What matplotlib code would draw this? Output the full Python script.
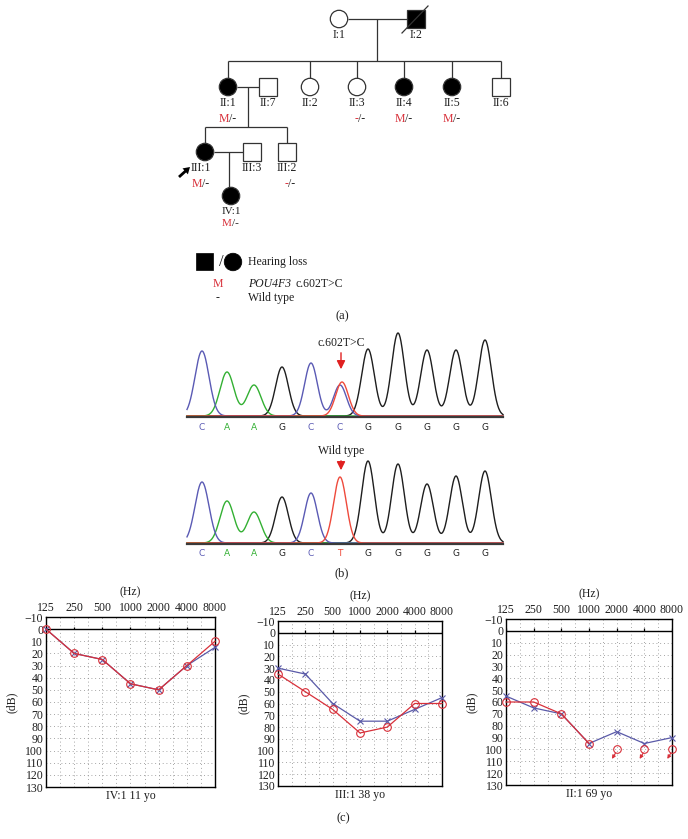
import numpy as np
import matplotlib
matplotlib.use('Agg')
import matplotlib.pyplot as plt
from matplotlib.patches import Circle, Rectangle, FancyArrow

plt.rcParams['font.family'] = ['Liberation Serif', 'DejaVu Serif']

W, H = 688, 839
RED = '#d8303a'
BLUE = '#5a5aa8'
INK = '#1e1e1e'

# ---- pedigree data
ped_ids = ['I:1', 'I:2', 'II:1', 'II:7', 'II:2', 'II:3', 'II:4', 'II:5', 'II:6',
           'III:1', 'III:3', 'III:2', 'IV:1']
ped_sex = ['F', 'M', 'F', 'M', 'F', 'F', 'F', 'F', 'M', 'F', 'M', 'M', 'F']
ped_affected = [0, 1, 1, 0, 0, 0, 1, 1, 0, 1, 0, 0, 1]
ped_deceased = [0, 1, 0, 0, 0, 0, 0, 0, 0, 0, 0, 0, 0]
ped_genotype = ['', '', 'M/-', '', '', '-/-', 'M/-', 'M/-', '', 'M/-', '', '-/-', 'M/-']

# ---- chromatogram data (peak call, height)
peak_x = [202, 227, 254, 282, 311, 340, 368, 398, 427, 456, 485]
mut_calls = ['C', 'A', 'A', 'G', 'C', 'C', 'G', 'G', 'G', 'G', 'G']
mut_heights = [65, 44, 31, 49, 53, 31, 67, 83, 66, 66, 76]
mut_second = [(5, 'T', 34)]
wt_calls = ['C', 'A', 'A', 'G', 'C', 'T', 'G', 'G', 'G', 'G', 'G']
wt_heights = [61, 42, 31, 46, 50, 66, 82, 79, 59, 67, 72]
base_col = {'C': '#5a5ab4', 'A': '#33b033', 'G': '#1e1e1e', 'T': '#ee4a3c'}

# ---- audiogram data
freqs = [125, 250, 500, 1000, 2000, 4000, 8000]
aud_titles = ['IV:1 11 yo', 'III:1 38 yo', 'II:1 69 yo']
aud_left = [[0, 20, 25, 45, 50, 30, 15],
            [30, 35, 60, 75, 75, 65, 55],
            [55, 65, 70, 95, 85, 95, 90]]
aud_right = [[0, 20, 25, 45, 50, 30, 10],
             [35, 50, 65, 85, 80, 60, 60],
             [60, 60, 70, 95]]
aud_noresp = [[], [], [(2000, 100), (4000, 100), (8000, 100)]]

fig = plt.figure(figsize=(W / 100, H / 100), dpi=100)
bg = fig.add_axes([0, 0, 1, 1])
bg.set_xlim(0, W)
bg.set_ylim(H, 0)
bg.axis('off')

# pedigree layout (pixel positions)
ped_pos = {'I:1': (339, 19), 'I:2': (416, 19),
           'II:1': (228, 87), 'II:7': (268, 87), 'II:2': (310, 87), 'II:3': (357, 87),
           'II:4': (404, 87), 'II:5': (452, 87), 'II:6': (501, 87),
           'III:1': (205, 152), 'III:3': (252, 152), 'III:2': (287, 152),
           'IV:1': (231, 196)}
R = 8.7
lw = 0.9
FS = 8.5

def line(xs, ys):
    bg.plot(xs, ys, color='#333333', lw=lw, solid_capstyle='butt')

# connecting lines
line([339 + R, 416 - R], [19, 19])
line([377, 377], [19, 61])
line([228, 501], [61, 61])
for k in ['II:1', 'II:2', 'II:3', 'II:4', 'II:5', 'II:6']:
    x = ped_pos[k][0]
    line([x, x], [61, 87 - R])
line([228 + R, 268 - R], [87, 87])
line([248, 248], [87, 127])
line([205, 287], [127, 127])
line([205, 205], [127, 152 - R])
line([287, 287], [127, 152 - R])
line([205 + R, 252 - R], [152, 152])
line([229, 229], [152, 196 - R])

def symbol(x, y, sex, aff):
    fc = 'black' if aff else 'white'
    if sex == 'F':
        bg.add_patch(Circle((x, y), R, fc=fc, ec='#333333', lw=lw, zorder=3))
    else:
        bg.add_patch(Rectangle((x - R, y - R), 2 * R, 2 * R, fc=fc, ec='#333333', lw=lw, zorder=3))

for i, k in enumerate(ped_ids):
    x, y = ped_pos[k]
    symbol(x, y, ped_sex[i], ped_affected[i])
    if ped_deceased[i]:
        bg.plot([x - 14, x + 12], [y + 14, y - 13], color='#333333', lw=lw, zorder=4)
    fs = FS
    tx = x - 4 if k == 'III:1' else x
    if k == 'IV:1':
        ly, gy, fs = y + 16, y + 27, 8
    else:
        ly, gy = y + 16, y + 32
    bg.text(tx, ly, k, ha='center', va='center', fontsize=fs, color=INK)
    g = ped_genotype[i]
    if g:
        bg.text(tx + 1, gy, g[0], ha='right', va='center', fontsize=fs, color=RED)
        bg.text(tx + 1, gy, g[1:], ha='left', va='center', fontsize=fs, color=INK)

# proband arrow
bg.add_patch(FancyArrow(179, 177, 11, -10, width=2.8, head_width=8, head_length=6.5,
                        length_includes_head=True, color='black', lw=0))

# legend
bg.add_patch(Rectangle((196, 253), 17, 17, fc='black', ec='black', lw=0.5))
bg.text(221, 262, '/', ha='center', va='center', fontsize=12, color=INK)
bg.add_patch(Circle((233, 262), 8.8, fc='black', ec='black', lw=0.5))
bg.text(248, 262, 'Hearing loss', ha='left', va='center', fontsize=FS, color=INK)
bg.text(218, 284, 'M', ha='center', va='center', fontsize=FS, color=RED)
bg.text(248, 284, 'POU4F3', ha='left', va='center', fontsize=FS, color=INK, fontstyle='italic')
bg.text(295, 284, 'c.602T>C', ha='left', va='center', fontsize=FS, color=INK)
bg.text(218, 298, '-', ha='center', va='center', fontsize=FS, color=INK)
bg.text(248, 298, 'Wild type', ha='left', va='center', fontsize=FS, color=INK)
bg.text(342, 316, '(a)', ha='center', va='center', fontsize=9, color=INK)

# chromatograms
xs = np.linspace(187, 503, 800)

def chromatogram(base_y, calls, heights, extra, label, label_y, arrow_y):
    traces = {c: np.zeros_like(xs) for c in 'ACGT'}
    for j, (c, h) in enumerate(zip(calls, heights)):
        s = 7.0 if j < 3 else 6.4
        traces[c] += h * np.exp(-(xs - peak_x[j]) ** 2 / (2 * s ** 2))
    for j, c, h in extra:
        traces[c] += h * np.exp(-(xs - peak_x[j] - 2) ** 2 / (2 * 6.4 ** 2))
    for c in ['G', 'A', 'C', 'T']:
        tr = traces[c]
        if tr.max() > 0:
            bg.plot(xs, base_y - tr - 1, color=base_col[c], lw=1.0)
    bg.plot([187, 503], [base_y, base_y], color='#3a3a3a', lw=1.6)
    for j, c in enumerate(calls):
        bg.text(peak_x[j], base_y + 10, c, ha='center', va='center', fontsize=6.5,
                family='DejaVu Sans', color=base_col[c])
    bg.text(341, label_y, label, ha='center', va='center', fontsize=8.5, color=INK)
    bg.annotate('', xy=(341, arrow_y[1]), xytext=(341, arrow_y[0]),
                arrowprops=dict(arrowstyle='-|>,head_width=0.25,head_length=0.5', color='#e02020', lw=1))

chromatogram(417, mut_calls, mut_heights, mut_second, 'c.602T>C', 343, (350, 372))
chromatogram(544, wt_calls, wt_heights, [], 'Wild type', 451, (458, 473))
bg.text(342, 573, '(b)', ha='center', va='center', fontsize=9, color=INK)
bg.text(343, 818, '(c)', ha='center', va='center', fontsize=9, color=INK)

# audiograms
boxes = [(46, 617, 215, 787), (278, 621, 442, 786), (506, 619, 672, 785)]
half_oct = [125 * 2 ** (k / 2) for k in range(13)]
for p, (l, t, r, b) in enumerate(boxes):
    ax = fig.add_axes([l / W, 1 - b / H, (r - l) / W, (b - t) / H])
    ax.set_xscale('log', base=2)
    ax.set_xlim(125, 8000)
    ax.set_ylim(130, -10)
    ax.xaxis.tick_top()
    ax.set_xticks(freqs)
    ax.set_xticklabels([str(f) for f in freqs])
    ax.set_xticks([], minor=True)
    ax.set_yticks(range(-10, 131, 10))
    ax.set_yticklabels([('\u2212' + str(-v)) if v < 0 else str(v) for v in range(-10, 131, 10)])
    ax.tick_params(length=0, labelsize=8.5, pad=2, colors=INK)
    for f in half_oct[1:-1]:
        ax.axvline(f, color='#888888', lw=0.6, ls=(0, (1, 3.5)), zorder=0)
    for v in range(10, 130, 10):
        ax.axhline(v, color='#888888', lw=0.6, ls=(0, (1, 3.5)), zorder=0)
    ax.axhline(0, color='black', lw=1, zorder=1)
    ax.vlines(freqs, -2, 0, color='black', lw=0.9, zorder=1)
    for s in ax.spines.values():
        s.set_linewidth(1)
    ax.plot(freqs, aud_left[p], color=BLUE, lw=0.9, marker='x', ms=4.5, mew=0.8, clip_on=False, zorder=3)
    ax.plot(freqs[:len(aud_right[p])], aud_right[p], color=RED, lw=0.9, marker='o', ms=5.5,
            mfc='none', mew=0.8, clip_on=False, zorder=4)
    for f, v in aud_noresp[p]:
        ax.plot([f], [v], marker='o', ms=5.5, mfc='none', mec=RED, mew=0.8, clip_on=False, zorder=4)
        ax.annotate('', xy=(f * 2 ** -0.17, v + 8), xytext=(f * 2 ** -0.04, v + 3),
                    arrowprops=dict(arrowstyle='-|>,head_width=0.1,head_length=0.2',
                                    color=RED, lw=0.8, shrinkA=0, shrinkB=0),
                    annotation_clip=False)
    ax.text(0.5, 1 + 25 / (b - t), '(Hz)', transform=ax.transAxes, ha='center', va='center',
            fontsize=8.5, color=INK)
    ax.text(-34 / (r - l), 0.5, '(dB)', transform=ax.transAxes, ha='center', va='center',
            rotation=90, fontsize=8.5, color=INK)
    ax.text(0.5, -9 / (b - t), aud_titles[p], transform=ax.transAxes, ha='center', va='center',
            fontsize=8.5, color=INK)

fig.savefig('out.png', dpi=100)
